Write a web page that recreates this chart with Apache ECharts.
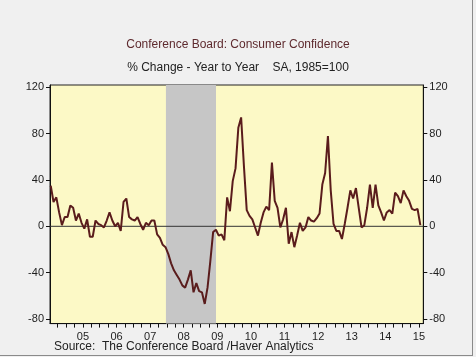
<!DOCTYPE html>
<html>
<head>
<meta charset="utf-8">
<script src="https://cdn.jsdelivr.net/npm/echarts@6/dist/echarts.min.js"></script>
<style>
html,body{margin:0;padding:0;background:#f0f0f0;}
#frame{position:absolute;left:0;top:0;width:472px;height:355px;border-right:1px solid #8a8a8a;border-bottom:1px solid #8a8a8a;}
#chart{position:absolute;left:0;top:0;width:476px;height:357px;}
</style>
</head>
<body>
<div id="frame"></div>
<div id="chart"></div>
<script>
// Monthly % change, year to year, Jul 2004 .. Jul 2015
const startYear = 2004;
const startMonth = 7;
const values = [
  35, 21, 25, 12, 1, 8, 8, 18, 16, 5, 11, 3,
  -2, 6, -9, -9, 5, 2, 1, -1, 5, 12, 5, 0,
  3, -4, 21, 24, 8, 6, 5, 8, 2, -3, 3, 1,
  5, 5, -7, -10, -16, -18, -24, -32, -38, -42, -46, -51,
  -53, -46, -38, -57, -49, -56, -57, -67, -53, -30, -5, -3,
  -8, -7, -12, 25, 13, 39, 50, 85, 94, 52, 14, 9,
  6, -1, -8, 3, 12, 17, 14, 55, 22, 16, -1, 6,
  16, -15, -5, -18, -8, 3, -4, -1, 8, 5, 4, 7,
  11, 36, 46, 78, 31, 2, -4, -4, -11, 2, 16, 31,
  24, 33, 16, -1, 1, 16, 36, 16, 36, 18, 12, 5,
  12, 14, 11, 29, 26, 20, 31, 26, 22, 15, 14, 15,
  1
];
const yearLabels = ['05','06','07','08','09','10','11','12','13','14','15'];
const yTicks = [-80, -40, 0, 40, 80, 120];
const recession = [2007.97, 2009.46];

const seriesData = values.map((v, i) => [startYear + (startMonth - 1 + i + 0.5) / 12, v]);
const xMin = 2004.52, xMax = 2015.63;
const quarterTicks = [];
for (let q = 2004.75; q <= 2015.5 + 1e-9; q += 0.25) quarterTicks.push(+q.toFixed(2));
const labelPos = yearLabels.map(y => 2000 + parseInt(y, 10) + 0.5);

const chart = echarts.init(document.getElementById('chart'), null, {renderer: 'canvas'});
const txt = '#1e1e1e';
const yAxisCommon = {
  type: 'value', min: -84, max: 122,
  axisLine: {show: true, lineStyle: {color: '#111', width: 1}},
  axisTick: {show: true, length: 4, customValues: yTicks, lineStyle: {color: '#111'}},
  axisLabel: {customValues: yTicks, color: txt, fontSize: 11, fontFamily: 'Liberation Sans, Arial', margin: 6},
  splitLine: {show: false}
};
chart.setOption({
  backgroundColor: 'transparent',
  animation: false,
  title: [
    {text: 'Conference Board: Consumer Confidence', left: 'center', top: 34,
     textStyle: {color: '#5e2a2e', fontSize: 12, fontWeight: 'normal', fontFamily: 'Liberation Sans, Arial'}},
    {text: '% Change - Year to Year    SA, 1985=100', left: 'center', top: 57,
     textStyle: {color: '#222', fontSize: 12, fontWeight: 'normal', fontFamily: 'Liberation Sans, Arial'}}
  ],
  graphic: [{
    type: 'text', left: 54, top: 341,
    style: {text: 'Source:  The Conference Board /Haver Analytics', fill: '#222', fontSize: 12, fontFamily: 'Liberation Sans, Arial'}
  }],
  grid: {left: 50, right: 52.7, top: 85, bottom: 33.4, show: true, backgroundColor: '#fcf9c6', borderColor: '#222', borderWidth: 1},
  xAxis: {
    type: 'value', min: xMin, max: xMax,
    axisLine: {show: true, onZero: false, lineStyle: {color: '#111'}},
    axisTick: {show: true, length: 4, customValues: quarterTicks, lineStyle: {color: '#111'}},
    axisLabel: {customValues: labelPos, color: txt, fontSize: 11, fontFamily: 'Liberation Sans, Arial', margin: 8,
      formatter: v => String(Math.floor(v) % 100).padStart(2, '0')},
    splitLine: {show: false}
  },
  yAxis: [
    Object.assign({}, yAxisCommon, {position: 'left'}),
    Object.assign({}, yAxisCommon, {position: 'right'})
  ],
  series: [
    {type: 'line', data: [[xMin, 0], [xMax, 0]], symbol: 'none', silent: true, z: 1,
     lineStyle: {color: '#333', width: 1}},
    {type: 'line', data: seriesData, symbol: 'none', z: 3,
     lineStyle: {color: '#5a1c1c', width: 2},
     markArea: {silent: true, itemStyle: {color: '#c6c6c6', opacity: 1},
       data: [[{xAxis: recession[0]}, {xAxis: recession[1]}]]}}
  ]
});
</script>
</body>
</html>
